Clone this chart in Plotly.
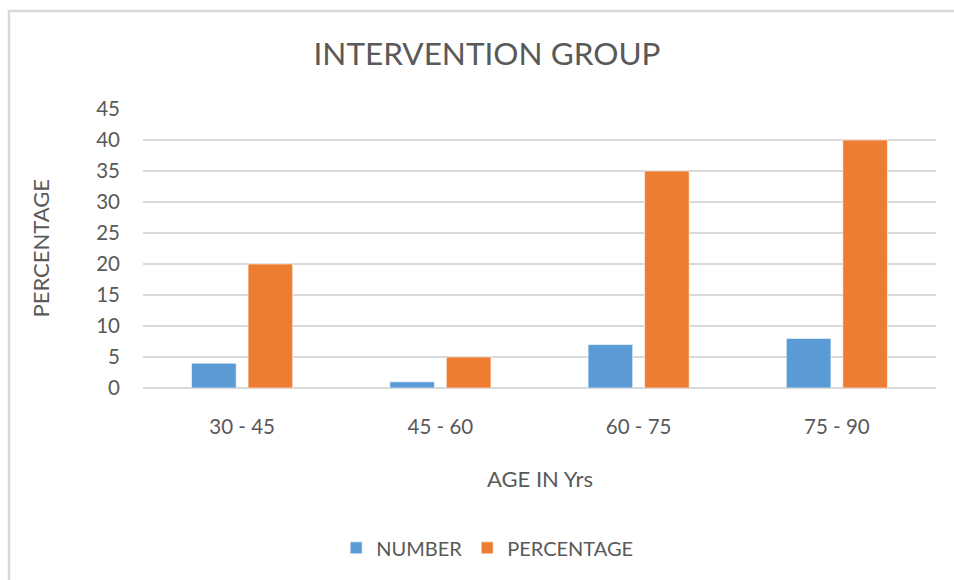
import plotly.graph_objects as go

# Age bands and the two series plotted for the intervention group
age_groups = ["30 - 45", "45 - 60", "60 - 75", "75 - 90"]
number = [4, 1, 7, 8]
percentage = [20, 5, 35, 40]
y_ticks = list(range(0, 50, 5))

TEXT = "#595959"
GRID = "#D9D9D9"
FONT = "Lato, Calibri, Arial, sans-serif"

fig = go.Figure()
fig.add_trace(go.Bar(
    name="NUMBER", x=age_groups, y=number,
    marker=dict(color="#5B9BD5", line=dict(color="#FFFFFF", width=0.6)),
))
fig.add_trace(go.Bar(
    name="PERCENTAGE", x=age_groups, y=percentage,
    marker=dict(color="#ED7D31", line=dict(color="#FFFFFF", width=0.6)),
))

fig.update_layout(
    width=954, height=580, autosize=False,
    margin=dict(l=143, r=18, t=109, b=192),
    paper_bgcolor="white", plot_bgcolor="white",
    font=dict(family=FONT, color=TEXT, size=20),
    barmode="group", bargap=0.43, bargroupgap=0.21,
    title=dict(
        text="INTERVENTION GROUP",
        font=dict(family=FONT, size=31.5, color=TEXT),
        x=0.5105, xanchor="center", xref="container",
        y=1 - 54 / 580, yanchor="middle", yref="container",
    ),
    legend=dict(
        orientation="h", x=0.434, xanchor="center", y=-0.573, yanchor="middle",
        font=dict(family=FONT, size=20, color=TEXT),
        itemwidth=30, traceorder="normal",
    ),
    showlegend=True,
)

fig.update_yaxes(
    range=[0, 45], tickvals=y_ticks, ticktext=[str(v) for v in y_ticks],
    showgrid=True, gridcolor=GRID, gridwidth=1.5,
    zeroline=True, zerolinecolor=GRID, zerolinewidth=1.5,
    showline=False, ticks="", ticklabelstandoff=22,
    tickfont=dict(family=FONT, size=20.5, color=TEXT),
    fixedrange=True,
)
fig.update_xaxes(
    showgrid=False, showline=False, zeroline=False, ticks="",
    ticklabelstandoff=24,
    tickfont=dict(family=FONT, size=20.5, color=TEXT),
    fixedrange=True,
)

# Axis titles placed as annotations
fig.add_annotation(
    text="PERCENTAGE", textangle=-90, showarrow=False,
    xref="paper", yref="paper", x=(40 - 143) / 793, y=0.5,
    xanchor="center", yanchor="middle",
    font=dict(family=FONT, size=22, color=TEXT),
)
fig.add_annotation(
    text="AGE IN Yrs", showarrow=False,
    xref="paper", yref="paper", x=0.5, y=(388 - 478) / 279,
    xanchor="center", yanchor="middle",
    font=dict(family=FONT, size=22, color=TEXT),
)

# Chart frame
fig.add_shape(
    type="rect", xref="paper", yref="paper",
    x0=(9 - 143) / 793, x1=1.06, y0=-0.76, y1=(388 - 11) / 279,
    line=dict(color=GRID, width=2.5), fillcolor="rgba(0,0,0,0)", layer="below",
)

fig.write_html("out.html")
